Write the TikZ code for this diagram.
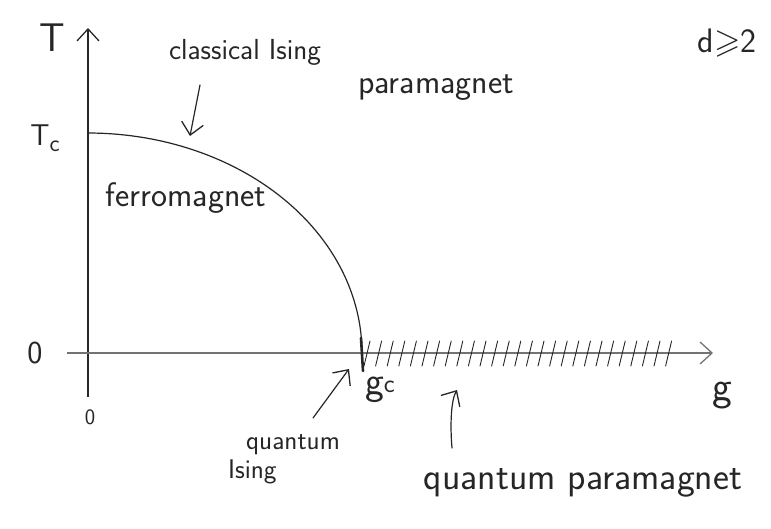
\documentclass[tikz,border=0pt]{standalone}
\usepackage{amssymb}
\usepackage{fontspec}
\usetikzlibrary{arrows.meta}
\begin{document}
\begin{tikzpicture}[x=1pt,y=-1pt,
  pencil/.style={draw=black!85,line width=1.2pt,line cap=round},
  axisline/.style={draw=black!55,line width=1.3pt},
  hand/.style={font=\sffamily,text=black!85,inner sep=0pt},
  barb/.style={-{Straight Barb[length=12pt,width=22pt,line width=1.3pt]}},
]
\useasboundingbox (0,0) rectangle (771,528);
% axes
\coordinate (ytop) at (88,28);
\coordinate (ybot) at (88,397);
\coordinate (xleft) at (67,353);
\coordinate (xright) at (713,353);
\draw[axisline,barb,draw=black!85] (ybot) -- (ytop);
\draw[axisline,barb] (xleft) -- (xright);
% phase boundary
\draw[pencil] plot[domain=90:0,samples=60] ({88+274*cos(\x)},{353-220*sin(\x)});
\draw[pencil,line width=2.6pt] (361,338) -- (363,371);
% hatching
\foreach \i in {0,...,26}{
  \draw[pencil,line width=0.9pt] ({367+\i*11.6-3},366) -- ({367+\i*11.6+3},341);
}
% labels
\node[hand,font=\sffamily\fontsize{40}{40}\selectfont] (T) at (52,38) {T};
\node[hand,font=\sffamily\fontsize{30}{30}\selectfont] (Tc) at (45,138) {T\raisebox{-6pt}{\fontsize{24}{24}\selectfont c}};
\node[hand,font=\sffamily\fontsize{32}{32}\selectfont] (zeroT) at (35,353) {0};
\node[hand,font=\sffamily\fontsize{22}{22}\selectfont] (zerog) at (90,417) {0};
\node[hand,font=\sffamily\fontsize{34}{34}\selectfont] (d) at (727,43) {d$\geqslant$2};
\node[hand,font=\sffamily\fontsize{29}{29}\selectfont] (ci) at (245,52) {classical Ising};
\node[hand,font=\sffamily\fontsize{34}{34}\selectfont] (para) at (436,88) {paramagnet};
\node[hand,font=\sffamily\fontsize{34}{34}\selectfont] (ferro) at (186,198) {ferromagnet};
\node[hand,font=\sffamily\fontsize{40}{40}\selectfont] (gc) at (380,390) {g\raisebox{2pt}{\fontsize{26}{26}\selectfont c}};
\node[hand,font=\sffamily\fontsize{42}{42}\selectfont] (g) at (722,396) {g};
\node[hand,font=\sffamily\fontsize{27}{29}\selectfont,align=left] (qi) at (284,459) {\hspace*{18pt}quantum\\Ising};
\node[hand,font=\sffamily\fontsize{38}{38}\selectfont] (qp) at (583,483) {quantum paramagnet};
% pointer arrows
\coordinate (a1s) at (200,85);
\coordinate (a1e) at (190,136);
\draw[pencil,barb] (a1s) -- (a1e);
\coordinate (a2s) at (313,418);
\coordinate (a2e) at (349,369);
\draw[pencil,barb] (a2s) -- (a2e);
\coordinate (a3s) at (452,448);
\coordinate (a3e) at (457,390);
\draw[pencil,barb] (a3s) .. controls (450,425) and (451,400) .. (a3e);
\end{tikzpicture}
\end{document}
